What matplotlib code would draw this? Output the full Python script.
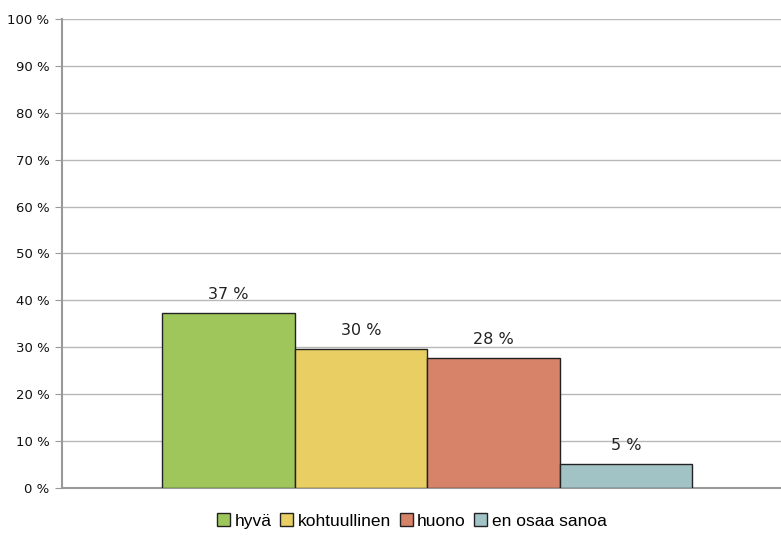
import matplotlib
matplotlib.use('Agg')
import matplotlib.pyplot as plt
from matplotlib.patches import Patch

categories = ['hyvä', 'kohtuullinen', 'huono', 'en osaa sanoa']
values = [37.4, 29.6, 27.7, 5.2]
colors = ['#9ec65b', '#e8ce63', '#d6836a', '#a2c3c6']
yticks = [0, 10, 20, 30, 40, 50, 60, 70, 80, 90, 100]

fig = plt.figure(figsize=(7.81, 5.37), dpi=100)
ax = fig.add_axes([62 / 781, 1 - 488 / 537, 1 - 62 / 781, (488 - 19) / 537])

x = list(range(len(categories)))
ax.bar(x, values, width=1.0, color=colors, edgecolor='#222222', linewidth=1.0, zorder=3)

# value labels above the bars
for xi, v in zip(x, values):
    ax.text(xi, v + 2.3, '%d %%' % round(v), ha='center', va='bottom',
            fontsize=11.5, color='#222222')

ax.set_xlim(-1.255, 4.17)
ax.set_ylim(0, 100)
ax.set_yticks(yticks)
ax.set_yticklabels(['%d %%' % t for t in yticks], fontsize=9.5, color='#111111')
ax.set_xticks([])
ax.yaxis.grid(True, color='#b8b8b8', linewidth=1.0, zorder=0)
ax.tick_params(axis='y', length=5, color='#999999', pad=4)

for side in ['top', 'right']:
    ax.spines[side].set_visible(False)
ax.spines['left'].set_color('#999999')
ax.spines['left'].set_linewidth(1.5)
ax.spines['bottom'].set_color('#999999')
ax.spines['bottom'].set_linewidth(1.5)

handles = [Patch(facecolor=c, edgecolor='#222222', linewidth=1.0) for c in colors]
fig.legend(handles, categories, loc='center', bbox_to_anchor=(412 / 781, 1 - 521 / 537),
           ncol=4, frameon=False, handlelength=0.75, handleheight=0.75,
           handletextpad=0.25, columnspacing=0.5, prop={'family': 'Liberation Sans', 'size': 12.5})

fig.savefig('out.png', dpi=100)
